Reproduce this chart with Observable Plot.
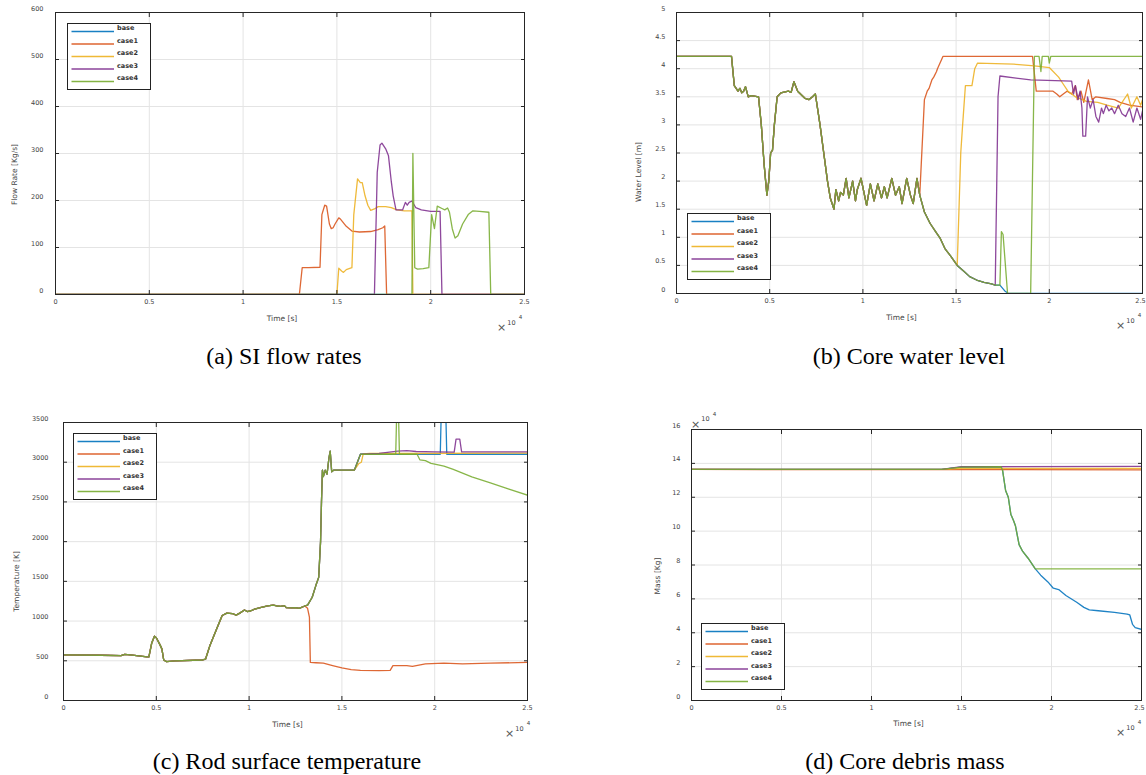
<!DOCTYPE html>
<html><head><meta charset="utf-8">
<script src="https://cdn.jsdelivr.net/npm/d3@7"></script>
<script src="https://cdn.jsdelivr.net/npm/@observablehq/plot@0.6"></script>
<style>
body{margin:0;background:#fff;}
#root{position:relative;width:1146px;height:775px;overflow:hidden;font-family:"DejaVu Sans",sans-serif;}
.panel{position:absolute;}
.cap{position:absolute;font-family:"Liberation Serif","Times New Roman",serif;font-size:24px;color:#000;transform:translate(-50%,-50%);white-space:nowrap;}
.leg{position:absolute;background:#fff;border:1.3px solid #222;box-sizing:border-box;}
</style></head><body><div id="root"></div>
<script>
// ---------- shared ----------
const seriesNames = ["base", "case1", "case2", "case3", "case4"];
const seriesColors = ["#0072BD", "#D95319", "#EDB120", "#7E2F8E", "#77AC30"];
const xTicks = [0, 0.5, 1, 1.5, 2, 2.5]; // x 10^4 s

// ---------- (a) SI flow rates [Kg/s], t in 10^4 s ----------
const flowTicks = [0, 100, 200, 300, 400, 500, 600];
const flowBase = [[0,0],[2.5,0]];
const flowCase1 = [[0,0],[1.30,0],[1.315,57],[1.35,57],[1.41,58],[1.42,170],[1.435,190],[1.445,188],[1.46,150],[1.47,140],[1.48,142],[1.49,150],[1.51,163],[1.52,160],[1.55,145],[1.58,135],[1.62,133],[1.68,134],[1.72,138],[1.745,142],[1.755,146],[1.765,0],[2.5,0]];
const flowCase2 = [[0,0],[1.50,0],[1.51,56],[1.525,50],[1.535,47],[1.55,53],[1.58,57],[1.59,170],[1.61,246],[1.625,238],[1.635,238],[1.65,210],[1.665,190],[1.68,179],[1.70,182],[1.72,187],[1.76,187],[1.79,185],[1.82,180],[1.86,178],[1.90,178],[1.905,0],[2.5,0]];
const flowCase3 = [[0,0],[1.70,0],[1.715,260],[1.73,318],[1.74,322],[1.76,310],[1.775,295],[1.79,240],[1.80,210],[1.815,180],[1.85,180],[1.865,196],[1.875,190],[1.885,196],[1.90,199],[1.92,185],[1.95,180],[2.00,177],[2.05,177],[2.06,0],[2.5,0]];
const flowCase4 = [[0,0],[1.90,0],[1.905,300],[1.915,57],[1.93,54],[1.96,55],[1.99,57],[2.005,170],[2.02,140],[2.035,188],[2.06,183],[2.075,180],[2.09,184],[2.10,175],[2.115,140],[2.13,120],[2.145,125],[2.17,150],[2.20,170],[2.225,178],[2.26,177],[2.31,175],[2.32,0],[2.5,0]];

// ---------- (b) Core water level [m] ----------
const waterTicks = [0, 0.5, 1, 1.5, 2, 2.5, 3, 3.5, 4, 4.5, 5];
const waterCommon = [[0,4.22],[0.295,4.22],[0.31,3.7],[0.33,3.6],[0.34,3.65],[0.35,3.57],[0.36,3.6],[0.37,3.68],[0.385,3.5],[0.40,3.52],[0.44,3.5],[0.455,3.0],[0.47,2.3],[0.485,1.75],[0.495,2.0],[0.505,2.5],[0.515,2.55],[0.525,3.0],[0.54,3.5],[0.56,3.57],[0.60,3.6],[0.615,3.58],[0.63,3.77],[0.65,3.6],[0.69,3.47],[0.71,3.45],[0.73,3.5],[0.745,3.55],[0.77,3.0],[0.79,2.5],[0.81,2.0],[0.825,1.7],[0.845,1.5],[0.855,1.85],[0.87,1.65],[0.88,1.8],[0.895,1.75],[0.91,2.05],[0.925,1.7],[0.945,2.0],[0.96,1.65],[0.97,1.85],[0.99,2.05],[1.02,1.57],[1.04,1.95],[1.06,1.65],[1.08,1.95],[1.10,1.7],[1.115,1.9],[1.13,1.7],[1.155,2.05],[1.175,1.75],[1.195,1.9],[1.21,1.6],[1.235,2.05],[1.255,1.75],[1.27,1.6],[1.29,2.05],[1.305,1.75]];
const waterDecayA = [[1.33,1.45],[1.36,1.25],[1.39,1.1],[1.415,0.98],[1.44,0.8],[1.47,0.67],[1.506,0.5]];
const waterDecayB = [[1.54,0.4],[1.573,0.3],[1.61,0.24],[1.65,0.2],[1.69,0.17],[1.71,0.15]];
const waterBaseTail = [[1.735,0.15],[1.76,0.05],[1.78,0],[2.5,0]];
const waterCase1Tail = [[1.33,3.45],[1.345,3.6],[1.355,3.65],[1.37,3.8],[1.38,3.85],[1.395,3.95],[1.40,4.0],[1.43,4.22],[1.91,4.22],[1.93,3.6],[2.02,3.6],[2.04,3.55],[2.056,3.5],[2.075,3.55],[2.095,3.6],[2.12,3.55],[2.14,3.7],[2.15,3.45],[2.17,3.6],[2.185,3.4],[2.21,3.8],[2.23,3.45],[2.25,3.5],[2.31,3.47],[2.35,3.45],[2.38,3.4],[2.43,3.35],[2.5,3.32]];
const waterCase2Tail = [[1.525,2.5],[1.535,3.0],[1.55,3.7],[1.585,3.7],[1.60,4.0],[1.615,4.1],[1.81,4.08],[1.92,4.05],[2.0,4.02],[2.05,3.85],[2.07,3.75],[2.1,3.6],[2.14,3.5],[2.2,3.42],[2.26,3.4],[2.31,3.35],[2.37,3.3],[2.42,3.55],[2.44,3.3],[2.47,3.5],[2.49,3.35],[2.5,3.45]];
const waterCase3Tail = [[1.725,3.5],[1.735,3.87],[1.9,3.8],[2.12,3.78],[2.13,3.55],[2.14,3.7],[2.155,3.45],[2.165,3.6],[2.175,3.3],[2.18,2.8],[2.195,2.8],[2.205,3.5],[2.22,3.3],[2.235,3.45],[2.25,3.15],[2.265,3.05],[2.28,3.3],[2.29,3.2],[2.305,3.35],[2.32,3.25],[2.335,3.3],[2.35,3.2],[2.37,3.35],[2.39,3.2],[2.41,3.15],[2.43,3.3],[2.45,3.05],[2.47,3.3],[2.49,3.1],[2.5,3.25]];
const waterCase4Tail = [[1.735,0.15],[1.743,1.1],[1.752,1.05],[1.776,0],[1.90,0],[1.92,4.22],[1.945,4.22],[1.955,3.95],[1.962,4.22],[1.995,4.22],[2.0,4.1],[2.008,4.22],[2.5,4.22]];

// ---------- (c) Rod surface temperature [K] ----------
const tempTicks = [0, 500, 1000, 1500, 2000, 2500, 3000, 3500];
const tempCommon = [[0,575],[0.2,570],[0.31,565],[0.33,580],[0.36,575],[0.45,550],[0.46,550],[0.475,720],[0.49,810],[0.5,790],[0.52,700],[0.53,650],[0.54,510],[0.555,490],[0.6,500],[0.75,510],[0.765,520],[0.79,700],[0.825,900],[0.855,1070],[0.88,1100],[0.91,1095],[0.93,1075],[0.95,1100],[0.975,1140],[0.99,1120],[1.01,1130],[1.03,1150],[1.06,1170],[1.1,1190],[1.13,1200],[1.15,1190],[1.17,1185],[1.19,1195],[1.2,1170],[1.23,1165],[1.25,1170],[1.27,1160],[1.3,1190]];
const tempHeatup = [[1.315,1200],[1.34,1300],[1.36,1450],[1.375,1550],[1.385,2000],[1.39,2500],[1.395,2900],[1.40,2820],[1.41,2900],[1.42,2850],[1.43,3050],[1.437,3140],[1.445,2880],[1.455,2900],[1.567,2900]];
const tempBaseTail = [[1.6,3100],[2.03,3100],[2.035,3600],[2.06,3600],[2.065,3100],[2.5,3100]];
const tempCase1Tail = [[1.315,1160],[1.325,1050],[1.33,480],[1.36,475],[1.4,470],[1.45,440],[1.5,410],[1.55,390],[1.6,380],[1.7,375],[1.76,380],[1.775,440],[1.85,440],[1.88,430],[1.95,460],[2.05,470],[2.15,460],[2.3,470],[2.5,480]];
const tempCase2Tail = [[1.59,2980],[1.605,3000],[1.615,3105],[1.65,3110],[1.8,3110],[2.5,3115]];
const tempCase3Tail = [[1.6,3100],[1.7,3110],[1.8,3140],[1.85,3145],[1.9,3135],[2.0,3130],[2.105,3128],[2.115,3290],[2.135,3290],[2.145,3130],[2.5,3130]];
const tempCase4Tail = [[1.6,3100],[1.79,3100],[1.795,3600],[1.805,3600],[1.81,3100],[1.905,3100],[1.92,3030],[1.95,3020],[1.98,2985],[2.0,2975],[2.05,2950],[2.1,2910],[2.2,2815],[2.3,2740],[2.4,2660],[2.5,2585]];

// ---------- (d) Core debris mass [10^4 Kg] ----------
const massTicks = [0, 2, 4, 6, 8, 10, 12, 14, 16];
const massMelt = [[0,13.64],[1.39,13.64],[1.45,13.72],[1.5,13.78],[1.72,13.8],[1.728,13.6],[1.745,12.4],[1.76,12.0],[1.774,11.0],[1.79,10.6],[1.80,10.3],[1.82,9.2],[1.84,8.8],[1.87,8.4],[1.91,7.77]];
const massBaseTail = [[1.94,7.4],[1.98,7.0],[2.01,6.63],[2.04,6.55],[2.08,6.2],[2.14,5.8],[2.18,5.5],[2.21,5.35],[2.26,5.3],[2.35,5.2],[2.42,5.1],[2.435,5.05],[2.45,4.5],[2.465,4.3],[2.5,4.2]];
const massCase4Tail = [[2.5,7.77]];
const massCase1 = [[0,13.64],[2.5,13.62]];
const massCase2 = [[0,13.64],[1.39,13.64],[1.45,13.68],[1.5,13.7],[2.5,13.7]];
const massCase3 = [[0,13.64],[1.39,13.64],[1.45,13.74],[1.5,13.8],[2.5,13.82]];

// ---------- builders ----------
const tickFont = 6.5, labelFont = 7.5, tickFill = "#444";
const C = {textAnchor: "middle", lineAnchor: "middle"};

function makePanel(cfg) {
  const rows = [];
  cfg.series.forEach((s, i) => s.forEach(([t, v]) => rows.push({t, v, name: seriesNames[i]})));
  const fr = cfg.m;
  const lastX = xTicks[xTicks.length - 1];
  const plot = Plot.plot({
    width: cfg.width, height: cfg.height,
    marginLeft: fr[0], marginRight: fr[1], marginTop: fr[2], marginBottom: fr[3],
    style: {fontFamily: "DejaVu Sans, sans-serif", background: "transparent"},
    x: {domain: [0, 2.5], label: null},
    y: {domain: cfg.yDomain, label: null},
    color: {domain: seriesNames, range: seriesColors},
    marks: [
      Plot.gridX({ticks: xTicks, stroke: "#e4e4e4", strokeOpacity: 1}),
      Plot.gridY({ticks: cfg.yTicks, stroke: "#e4e4e4", strokeOpacity: 1}),
      Plot.line(rows, {x: "t", y: "v", stroke: "name", z: "name", strokeWidth: 1.3, strokeOpacity: 0.88, clip: true}),
      Plot.axisX({ticks: xTicks.slice(0, -1), anchor: "bottom", tickSize: 0, tickPadding: 5, tickFormat: d => String(d), fontSize: tickFont, fill: tickFill, label: null}),
      Plot.axisX({ticks: [lastX], anchor: "bottom", tickSize: 0, tickPadding: 5, dx: cfg.lastDx || 0, tickFormat: d => String(d), fontSize: tickFont, fill: tickFill, label: null}),
      Plot.axisX({ticks: xTicks, anchor: "bottom", tickSize: 4, dy: -4, tickFormat: () => "", label: null, stroke: "#262626"}),
      Plot.axisX({ticks: xTicks, anchor: "top", tickSize: 4, dy: 4, tickFormat: () => "", label: null, stroke: "#262626"}),
      Plot.axisY({ticks: cfg.yTicks, anchor: "left", tickSize: 0, tickPadding: cfg.yPad, dy: -4, tickFormat: d => String(d), fontSize: tickFont, fill: tickFill, label: null}),
      Plot.axisY({ticks: cfg.yTicks, anchor: "left", tickSize: 4, dx: 4, tickFormat: () => "", label: null, stroke: "#262626"}),
      Plot.axisY({ticks: cfg.yTicks, anchor: "right", tickSize: 4, dx: -4, tickFormat: () => "", label: null, stroke: "#262626"}),
      Plot.frame({stroke: "#262626", strokeWidth: 1}),
      Plot.text([cfg.ylabel], {...C, frameAnchor: "left", text: d => d, rotate: -90, dx: cfg.yl[0], dy: cfg.yl[1], fontSize: labelFont, fill: tickFill}),
      Plot.text(["Time [s]"], {...C, frameAnchor: "bottom", text: d => d, dx: -8, dy: cfg.xlDy, fontSize: labelFont, fill: tickFill}),
      Plot.text(["\u00d7"], {...C, frameAnchor: "bottom-right", text: d => d, dx: cfg.ex[0], dy: cfg.ex[1], fontSize: 11, fill: "#555"}),
      Plot.text(["10"], {...C, frameAnchor: "bottom-right", text: d => d, dx: cfg.ex[0] + 10, dy: cfg.ex[1] - 5, fontSize: 6.5, fill: tickFill}),
      Plot.text(["4"], {...C, frameAnchor: "bottom-right", text: d => d, dx: cfg.ex[0] + 19, dy: cfg.ex[1] - 10, fontSize: 5.5, fill: tickFill}),
      ...(cfg.yExp ? [
        Plot.text(["\u00d7"], {...C, frameAnchor: "top-left", text: d => d, dx: 4, dy: -5, fontSize: 11, fill: "#555"}),
        Plot.text(["10"], {...C, frameAnchor: "top-left", text: d => d, dx: 14, dy: -11, fontSize: 6.5, fill: tickFill}),
        Plot.text(["4"], {...C, frameAnchor: "top-left", text: d => d, dx: 23, dy: -15, fontSize: 5.5, fill: tickFill})
      ] : [])
    ]
  });
  plot.classList.add("panel");
  plot.style.left = cfg.left + "px";
  plot.style.top = cfg.top + "px";
  return plot;
}

function makeLegend(left, top) {
  const w = 84, h = 67, rowY = [8.5, 21, 33.5, 46, 58.5];
  const div = document.createElement("div");
  div.className = "leg";
  div.style.left = left + "px"; div.style.top = top + "px";
  div.style.width = w + "px"; div.style.height = h + "px";
  const svg = d3.create("svg").attr("width", w).attr("height", h).style("display", "block").style("position", "absolute").style("left", "-1px").style("top", "-1px");
  seriesNames.forEach((n, i) => {
    svg.append("line").attr("x1", 4.5).attr("x2", 47).attr("y1", rowY[i]).attr("y2", rowY[i])
      .attr("stroke", seriesColors[i]).attr("stroke-width", 1.5).attr("stroke-opacity", 0.9);
    svg.append("text").attr("x", 50).attr("y", rowY[i] - 3).attr("dominant-baseline", "middle")
      .attr("font-size", 6.5).attr("font-weight", 600).attr("fill", "#333")
      .attr("font-family", "DejaVu Sans, sans-serif").text(n);
  });
  div.appendChild(svg.node());
  return div;
}

function caption(text, cx, cy) {
  const d = document.createElement("div");
  d.className = "cap"; d.textContent = text;
  d.style.left = cx + "px"; d.style.top = cy + "px";
  return d;
}

const root = document.getElementById("root");

root.appendChild(makePanel({
  left: 0, top: 0, width: 573, height: 340, m: [55, 49, 12, 46],
  yDomain: [0, 600], yTicks: flowTicks, yPad: 12,
  series: [flowBase, flowCase1, flowCase2, flowCase3, flowCase4],
  ylabel: "Flow Rate [Kg/s]", yl: [-41, 21], xlDy: 24, ex: [-23, 33]
}));
root.appendChild(makePanel({
  left: 573, top: 0, width: 573, height: 340, m: [103, 4, 12, 47], lastDx: -2,
  yDomain: [0, 5], yTicks: waterTicks, yPad: 11,
  series: [
    [...waterCommon, ...waterDecayA, ...waterDecayB, ...waterBaseTail],
    [...waterCommon, ...waterCase1Tail],
    [...waterCommon, ...waterDecayA, ...waterCase2Tail],
    [...waterCommon, ...waterDecayA, ...waterDecayB, ...waterCase3Tail],
    [...waterCommon, ...waterDecayA, ...waterDecayB, ...waterCase4Tail]
  ],
  ylabel: "Water Level [m]", yl: [-38, 19], xlDy: 24, ex: [-22, 32]
}));
root.appendChild(makePanel({
  left: 0, top: 387, width: 573, height: 353, m: [63, 46, 35, 40],
  yDomain: [0, 3500], yTicks: tempTicks, yPad: 15,
  series: [
    [...tempCommon, ...tempHeatup, ...tempBaseTail],
    [...tempCommon, ...tempCase1Tail],
    [...tempCommon, ...tempHeatup, ...tempCase2Tail],
    [...tempCommon, ...tempHeatup, ...tempCase3Tail],
    [...tempCommon, ...tempHeatup, ...tempCase4Tail]
  ],
  ylabel: "Temperature [K]", yl: [-47, 20], xlDy: 24, ex: [-18, 33]
}));
root.appendChild(makePanel({
  left: 573, top: 387, width: 573, height: 353, m: [118, 5, 42, 40], lastDx: -2,
  yDomain: [0, 16], yTicks: massTicks, yPad: 11, yExp: true,
  series: [
    [...massMelt, ...massBaseTail],
    massCase1,
    massCase2,
    massCase3,
    [...massMelt, ...massCase4Tail]
  ],
  ylabel: "Mass [Kg]", yl: [-34, 11], xlDy: 23, ex: [-21, 32]
}));

root.appendChild(makeLegend(67, 23));
root.appendChild(makeLegend(687, 213));
root.appendChild(makeLegend(73, 433));
root.appendChild(makeLegend(701, 623));

root.appendChild(caption("(a) SI flow rates", 284, 356));
root.appendChild(caption("(b) Core water level", 909, 356));
root.appendChild(caption("(c) Rod surface temperature", 287, 761));
root.appendChild(caption("(d) Core debris mass", 905, 761));
</script></body></html>
